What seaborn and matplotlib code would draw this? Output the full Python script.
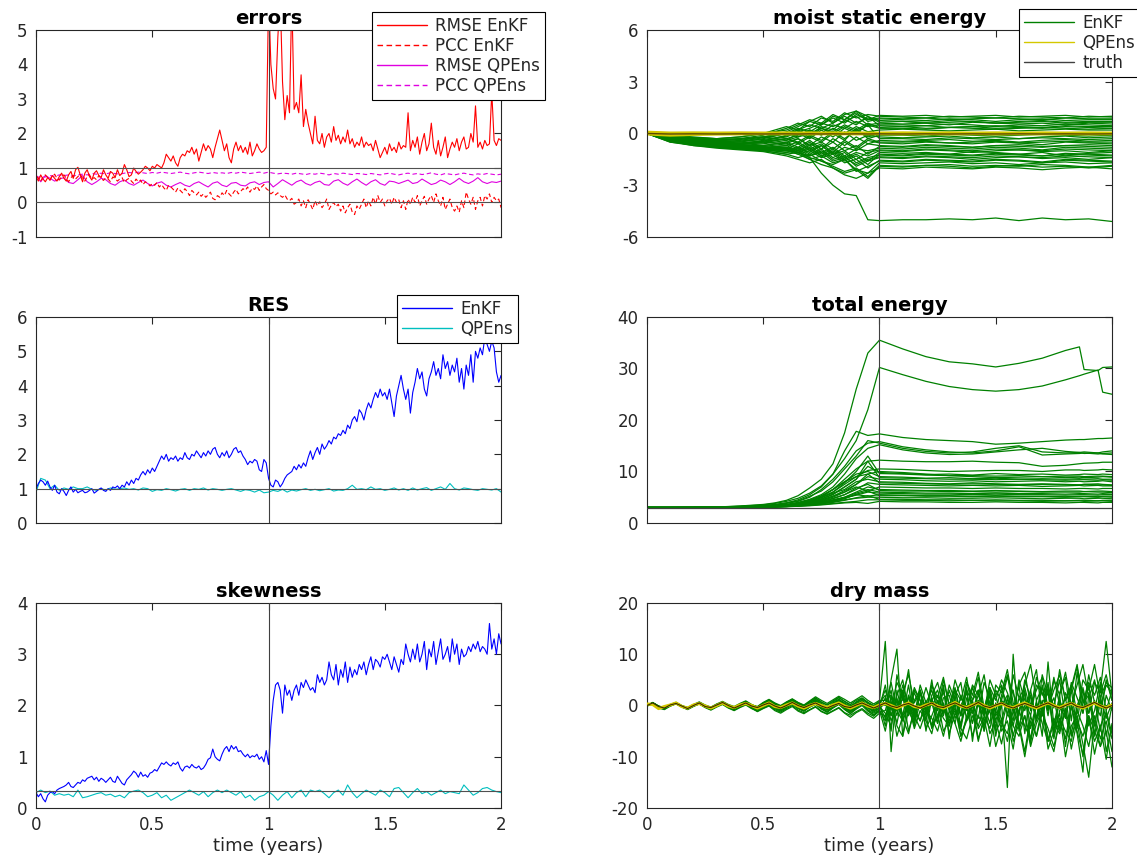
import numpy as np
import pandas as pd
import matplotlib
matplotlib.use("Agg")
import matplotlib.pyplot as plt
from matplotlib.lines import Line2D
import seaborn as sns

# ----------------------------------------------------------------- data
T_END = 2.0
SWITCH_T = 1.0

# errors panel (step 0.01 for EnKF, 0.02 for QPEns)
ERR_RMSE_ENKF = [
    0.75, 0.62, 0.8, 0.68, 0.6, 0.72, 0.65, 0.78, 0.7, 0.62,
    0.75, 0.85, 0.7, 0.62, 0.8, 0.9, 0.7, 0.95, 1.02, 0.8,
    0.6, 0.85, 0.95, 0.75, 0.65, 0.85, 0.92, 0.78, 0.72, 0.95,
    0.8, 0.7, 0.9, 0.85, 0.72, 0.95, 0.78, 0.85, 1.1, 0.95,
    0.75, 0.8, 1.0, 0.9, 0.82, 0.88, 0.95, 1.05, 1.0, 0.92,
    1.05, 1.0, 1.1, 1.05, 1.0, 1.15, 1.4, 1.3, 1.2, 1.35,
    1.15, 1.05, 1.3, 1.4, 1.35, 1.5, 1.45, 1.6, 1.4, 1.55,
    1.2, 1.45, 1.7, 1.5, 1.65, 1.55, 1.3, 1.6, 1.85, 2.1,
    1.8, 1.5, 1.7, 1.3, 1.15, 1.55, 1.75, 1.5, 1.65, 1.45,
    1.6, 1.4, 1.75, 1.35, 1.5, 1.7, 1.55, 1.45, 1.5, 1.6,
    6.0, 4.0, 3.3, 3.0, 4.8, 6.0, 3.5, 2.4, 3.1, 2.6,
    6.0, 2.7, 2.9, 2.6, 3.7, 2.2, 2.7, 2.3, 2.0, 1.7,
    2.5, 1.8, 1.7, 2.0, 1.6, 1.9, 2.0, 1.75, 2.2, 1.8,
    1.95, 1.7, 1.9, 1.75, 2.1, 1.7, 1.85, 1.6, 1.75, 1.65,
    1.9, 1.6, 1.75, 1.65, 1.7, 1.5, 1.8, 1.55, 1.3, 1.45,
    1.6, 1.4, 1.7, 1.5, 1.6, 1.45, 1.75, 1.55, 1.65, 1.6,
    2.6, 1.5, 1.8, 1.6, 1.9, 1.4, 1.75, 2.0, 1.5, 1.7,
    2.3, 1.6, 1.4, 1.8, 1.35, 1.6, 1.9, 1.3, 1.55, 1.75,
    1.6, 1.85, 1.5, 1.75, 1.9, 1.55, 1.6, 2.0, 1.75, 2.8,
    1.6, 1.75, 1.55, 1.8, 1.65, 1.7, 3.2, 1.8, 1.65, 1.85,
    1.8]
ERR_PCC_ENKF = [
    0.78, 0.7, 0.62, 0.75, 0.8, 0.72, 0.65, 0.78, 0.82, 0.7,
    0.65, 0.75, 0.8, 0.7, 0.6, 0.72, 0.78, 0.68, 0.75, 0.82,
    0.7, 0.62, 0.75, 0.8, 0.68, 0.72, 0.66, 0.78, 0.7, 0.64,
    0.72, 0.68, 0.6, 0.74, 0.7, 0.62, 0.68, 0.72, 0.58, 0.66,
    0.7, 0.62, 0.55, 0.68, 0.6, 0.65, 0.52, 0.6, 0.55, 0.48,
    0.55, 0.5, 0.58, 0.45, 0.52, 0.42, 0.35, 0.5, 0.45, 0.38,
    0.3, 0.42, 0.35, 0.28, 0.4, 0.32, 0.2, 0.35, 0.28, 0.22,
    0.3, 0.18, 0.25, 0.15, 0.22, 0.3, 0.12, 0.08, 0.2, 0.15,
    0.28, 0.2, 0.35, 0.25, 0.18, 0.3, 0.38, 0.25, 0.32, 0.4,
    0.35, 0.45, 0.3, 0.42, 0.38, 0.48, 0.35, 0.45, 0.52, 0.4,
    0.35, 0.25, 0.3, 0.22, 0.28, 0.2, 0.15, 0.22, 0.1, 0.05,
    0.12, -0.05, 0.0, 0.1, -0.1, 0.05, -0.15, 0.08, -0.05, -0.2,
    0.05, -0.1, 0.02, -0.15, -0.05, 0.1, -0.2, -0.08, 0.0, -0.12,
    -0.05, -0.25, -0.1, -0.3, -0.15, -0.05, -0.28, -0.35, -0.1, -0.2,
    -0.05, 0.1, -0.15, 0.05, -0.1, 0.15, -0.05, 0.2, 0.0, 0.1,
    -0.1, 0.05, 0.12, -0.05, 0.15, 0.0, 0.08, -0.15, 0.05, -0.2,
    0.1, -0.05, 0.15, 0.0, 0.2, -0.1, 0.05, 0.18, -0.05, 0.1,
    0.2, 0.0, 0.25, 0.05, -0.1, 0.15, -0.2, -0.05, 0.1, -0.15,
    -0.25, -0.1, -0.28, 0.05, -0.15, 0.3, 0.1, -0.05, 0.15, -0.2,
    0.05, 0.15, -0.1, 0.2, 0.1, 0.25, 0.0, 0.15, 0.05, 0.1,
    -0.15]
ERR_RMSE_QPENS = [
    0.8, 0.6, 0.78, 0.7, 0.62, 0.68, 0.72, 0.58, 0.55, 0.66,
    0.78, 0.6, 0.52, 0.6, 0.7, 0.66, 0.55, 0.5, 0.6, 0.65,
    0.55, 0.5, 0.58, 0.65, 0.55, 0.48, 0.56, 0.6, 0.5, 0.45,
    0.52, 0.58, 0.5, 0.46, 0.55, 0.6, 0.52, 0.45, 0.56, 0.6,
    0.5, 0.46, 0.56, 0.58, 0.5, 0.48, 0.57, 0.6, 0.52, 0.58,
    0.6, 0.45, 0.55, 0.66, 0.58, 0.5, 0.6, 0.65, 0.55, 0.5,
    0.58, 0.62, 0.52, 0.5, 0.62, 0.66, 0.56, 0.5, 0.6, 0.68,
    0.58, 0.5, 0.6, 0.66, 0.55, 0.5, 0.62, 0.6, 0.55, 0.6,
    0.65, 0.55, 0.58, 0.68, 0.6, 0.52, 0.56, 0.65, 0.6, 0.52,
    0.6, 0.7, 0.6, 0.55, 0.62, 0.72, 0.6, 0.55, 0.6, 0.58,
    0.62]
ERR_PCC_QPENS = [
    0.72, 0.75, 0.74, 0.78, 0.76, 0.8, 0.78, 0.8, 0.77, 0.8,
    0.82, 0.8, 0.84, 0.82, 0.85, 0.83, 0.86, 0.84, 0.82, 0.85,
    0.87, 0.85, 0.88, 0.86, 0.84, 0.87, 0.85, 0.88, 0.86, 0.84,
    0.86, 0.88, 0.85, 0.83, 0.86, 0.88, 0.86, 0.84, 0.87, 0.85,
    0.86, 0.84, 0.87, 0.85, 0.88, 0.86, 0.84, 0.86, 0.88, 0.85,
    0.88, 0.85, 0.83, 0.85, 0.84, 0.82, 0.85, 0.83, 0.81, 0.84,
    0.82, 0.85, 0.83, 0.8, 0.84, 0.82, 0.85, 0.83, 0.81, 0.84,
    0.83, 0.81, 0.84, 0.82, 0.8, 0.83, 0.85, 0.82, 0.8, 0.83,
    0.85, 0.82, 0.84, 0.81, 0.83, 0.86, 0.82, 0.8, 0.84, 0.82,
    0.8, 0.83, 0.85, 0.82, 0.8, 0.83, 0.81, 0.84, 0.82, 0.8,
    0.82]
ERR_REF_LEVELS = [0.0, 1.0]

# RES panel
RES_ENKF = [
    1.0, 1.15, 1.25, 1.2, 1.1, 1.22, 1.05, 0.95, 1.1, 0.9,
    0.85, 1.0, 0.92, 0.8, 0.95, 1.05, 0.9, 0.98, 0.88, 0.92,
    0.95, 0.88, 0.9, 0.95, 1.0, 0.87, 0.92, 0.98, 1.02, 0.95,
    0.92, 1.0, 0.95, 1.05, 1.02, 1.08, 1.0, 1.1, 1.05, 1.2,
    1.1, 1.25, 1.15, 1.3, 1.25, 1.4, 1.5, 1.4, 1.55, 1.45,
    1.6, 1.5, 1.65, 1.8, 1.95, 1.85, 2.0, 1.8, 1.9, 1.85,
    1.95, 1.8, 1.9, 1.85, 2.05, 1.9, 1.85, 2.0, 1.95, 2.1,
    2.0, 1.9, 2.05, 1.95, 2.1, 2.0, 2.15, 2.2, 2.0, 1.9,
    2.05, 1.95, 2.1, 1.9, 2.0, 2.15, 2.2, 2.05, 2.1, 1.95,
    1.85, 1.7, 1.8, 1.75, 1.85, 1.8, 1.55, 1.5, 1.85, 1.75,
    1.3, 1.1, 1.05, 1.25, 1.2, 1.05, 1.15, 1.3, 1.4, 1.45,
    1.5, 1.65, 1.55, 1.7, 1.6, 1.75, 1.65, 1.9, 2.1, 1.85,
    2.05, 2.2, 2.0, 2.3, 2.15, 2.25, 2.4, 2.3, 2.5, 2.45,
    2.6, 2.55, 2.7, 2.6, 2.85, 2.75, 3.0, 3.1, 2.95, 3.3,
    3.2, 3.0, 3.3, 3.5, 3.35, 3.6, 3.8, 3.65, 3.9, 3.7,
    3.8, 3.6, 3.9, 3.5, 3.1, 3.7, 4.0, 4.3, 3.9, 3.6,
    3.9, 3.2, 3.8, 4.1, 4.5, 4.2, 4.4, 3.9, 3.7, 4.2,
    4.4, 4.7, 4.3, 4.5, 4.2, 4.9, 4.5, 4.7, 4.3, 4.6,
    4.4, 4.8, 4.1, 4.5, 3.9, 4.6, 4.3, 4.9, 4.1, 5.0,
    4.8, 5.1, 4.9, 5.4, 5.2, 5.0, 5.3, 5.1, 4.4, 4.1,
    4.3]
RES_QPENS = [
    0.9, 1.3, 1.25, 1.0, 1.1, 0.95, 1.02, 0.98, 1.05, 1.0,
    1.0, 1.05, 0.98, 0.95, 1.0, 0.96, 1.02, 0.98, 1.0, 1.02,
    0.98, 1.0, 0.96, 1.02, 1.0, 0.92, 0.97, 0.95, 1.0, 0.97,
    0.93, 0.98, 1.0, 0.95, 1.0, 0.98, 1.02, 0.96, 1.0, 0.98,
    0.95, 0.98, 1.0, 0.96, 0.92, 0.97, 0.95, 0.9, 0.96, 0.88,
    0.9, 0.95, 0.92, 0.98, 0.9, 0.96, 0.93, 0.97, 1.0, 0.95,
    0.98, 0.94, 0.97, 1.0, 0.93, 0.96, 0.95, 1.0, 1.1, 0.98,
    1.0, 0.97, 1.05, 0.98, 1.0, 0.95, 0.98, 1.02, 0.96, 1.0,
    0.95, 1.02, 0.96, 1.0, 1.03, 0.95, 1.0, 1.05, 0.98, 1.15,
    1.0, 0.96, 1.02, 1.0, 0.97, 0.95, 1.0, 0.98, 0.96, 1.0,
    0.9]
RES_REF = 1.0

# skewness panel
SKEW_ENKF = [
    0.3, 0.22, 0.28, 0.18, 0.12, 0.25, 0.3, 0.32, 0.28, 0.35,
    0.38, 0.4, 0.42, 0.45, 0.5, 0.42, 0.4, 0.45, 0.5, 0.48,
    0.55, 0.52, 0.58, 0.6, 0.62, 0.55, 0.6, 0.52, 0.58, 0.55,
    0.5, 0.55, 0.6, 0.52, 0.5, 0.62, 0.55, 0.48, 0.45, 0.55,
    0.6, 0.65, 0.72, 0.68, 0.6, 0.7, 0.62, 0.65, 0.6, 0.68,
    0.7, 0.75, 0.72, 0.8, 0.88, 0.85, 0.9, 0.85, 0.82, 0.88,
    0.85, 0.9, 0.78, 0.72, 0.8, 0.82, 0.78, 0.85, 0.8, 0.78,
    0.82, 0.75, 0.78, 0.85, 0.95, 0.98, 1.15, 1.0, 0.95, 0.92,
    1.05, 1.15, 1.2, 1.1, 1.22, 1.15, 1.2, 1.1, 1.12, 1.05,
    1.0, 1.05, 0.98, 1.02, 1.0, 1.05, 0.95, 1.0, 0.9, 1.12,
    0.85, 1.6, 2.1, 2.4, 2.45, 2.3, 1.85, 2.4, 2.2, 2.3,
    2.1, 2.3, 2.4, 2.2, 2.45, 2.35, 2.5, 2.4, 2.3, 2.35,
    2.25, 2.6, 2.45, 2.55, 2.4, 2.5, 2.85, 2.6, 2.5, 2.8,
    2.4, 2.7, 2.55, 2.85, 2.45, 2.75, 2.55, 2.7, 2.6, 2.8,
    2.7, 2.85, 2.6, 2.8, 2.95, 2.7, 2.9, 2.85, 2.75, 2.95,
    2.9, 3.0, 2.85, 2.7, 2.95, 2.8, 2.65, 2.9, 2.8, 3.2,
    3.0, 2.85, 3.1, 2.9, 3.2, 2.85, 3.0, 3.25, 2.7, 3.1,
    2.95, 3.25, 2.8, 3.05, 3.3, 2.9, 3.0, 3.15, 2.85, 3.3,
    3.0, 3.2, 2.8, 3.1, 2.95, 3.0, 3.15, 3.05, 3.2, 3.1,
    3.25, 3.05, 3.15, 3.1, 3.0, 3.6, 3.1, 3.3, 3.0, 3.4,
    3.2]
SKEW_QPENS = [
    0.3, 0.35, 0.3, 0.33, 0.25, 0.28, 0.25, 0.27, 0.22, 0.35,
    0.2, 0.22, 0.25, 0.28, 0.3, 0.25, 0.27, 0.22, 0.25, 0.2,
    0.3, 0.33, 0.35, 0.3, 0.22, 0.25, 0.3, 0.2, 0.25, 0.15,
    0.2, 0.25, 0.3, 0.35, 0.3, 0.25, 0.32, 0.22, 0.3, 0.35,
    0.3, 0.35, 0.3, 0.25, 0.32, 0.2, 0.25, 0.15, 0.22, 0.25,
    0.32, 0.25, 0.15, 0.25, 0.32, 0.2, 0.3, 0.35, 0.22, 0.35,
    0.32, 0.35, 0.28, 0.2, 0.3, 0.35, 0.25, 0.45, 0.3, 0.2,
    0.28, 0.35, 0.3, 0.25, 0.35, 0.3, 0.22, 0.38, 0.4, 0.3,
    0.2, 0.3, 0.38, 0.28, 0.32, 0.25, 0.3, 0.35, 0.28, 0.32,
    0.3, 0.28, 0.45, 0.35, 0.25, 0.3, 0.38, 0.4, 0.35, 0.32,
    0.3]
SKEW_REF = 0.33

# moist static energy ensemble
MSE_T = [0.0, 0.1, 0.2, 0.3, 0.4, 0.5, 0.6, 0.65, 0.7, 0.75, 0.8, 0.85, 0.9,
         0.95, 1.0, 1.1, 1.2, 1.3, 1.4, 1.5, 1.6, 1.7, 1.8, 1.9, 2.0]
MSE_ENKF = [
    [0, -0.2, -0.3, -0.4, -0.3, -0.1, 0.3, 0.6, 0.4, 0.9, 0.7, 1.2, 0.9, 1.1, 1.0, 0.95, 0.9, 1.0, 0.95, 0.9, 1.0, 0.95, 0.9, 1.0, 0.95],
    [0, -0.3, -0.4, -0.5, -0.4, -0.2, 0.1, 0.4, 0.7, 0.5, 1.0, 0.8, 1.2, 0.7, 0.85, 0.8, 0.75, 0.85, 0.8, 0.7, 0.8, 0.85, 0.75, 0.8, 0.8],
    [0, -0.2, -0.35, -0.45, -0.5, -0.3, 0.0, 0.2, 0.5, 0.3, 0.6, 1.0, 0.6, 0.9, 0.75, 0.7, 0.65, 0.75, 0.7, 0.6, 0.7, 0.75, 0.65, 0.7, 0.7],
    [0, -0.25, -0.4, -0.55, -0.6, -0.4, -0.2, 0.1, 0.3, 0.6, 0.4, 0.7, 1.0, 0.5, 0.6, 0.55, 0.6, 0.5, 0.65, 0.6, 0.55, 0.6, 0.5, 0.6, 0.55],
    [0, -0.3, -0.45, -0.6, -0.65, -0.5, -0.3, -0.1, 0.2, 0.0, 0.5, 0.3, 0.7, 0.4, 0.5, 0.5, 0.45, 0.55, 0.5, 0.4, 0.5, 0.45, 0.55, 0.5, 0.45],
    [0, -0.35, -0.5, -0.6, -0.7, -0.6, -0.4, -0.2, 0.0, 0.3, 0.1, 0.5, 0.2, 0.6, 0.35, 0.4, 0.3, 0.35, 0.4, 0.3, 0.35, 0.3, 0.4, 0.35, 0.3],
    [0, -0.2, -0.3, -0.35, -0.3, -0.2, 0.0, -0.2, 0.2, -0.1, 0.3, 0.0, 0.4, 0.1, 0.2, 0.25, 0.2, 0.15, 0.2, 0.25, 0.15, 0.2, 0.25, 0.2, 0.2],
    [0, -0.3, -0.4, -0.5, -0.6, -0.55, -0.3, -0.5, -0.1, -0.4, 0.1, -0.3, 0.2, -0.2, 0.0, 0.05, -0.05, 0.0, 0.05, -0.05, 0.0, 0.05, 0.0, -0.05, 0.0],
    [0, -0.3, -0.45, -0.55, -0.6, -0.5, -0.6, -0.3, -0.7, -0.2, -0.5, 0.1, -0.4, -0.1, -0.2, -0.25, -0.2, -0.15, -0.25, -0.2, -0.3, -0.2, -0.15, -0.25, -0.2],
    [0, -0.35, -0.5, -0.6, -0.7, -0.7, -0.5, -0.8, -0.4, -0.9, -0.3, -0.7, -0.2, -0.6, -0.4, -0.45, -0.4, -0.35, -0.45, -0.4, -0.5, -0.4, -0.35, -0.45, -0.4],
    [0, -0.4, -0.55, -0.65, -0.75, -0.8, -0.7, -0.5, -0.9, -0.6, -1.1, -0.5, -0.9, -0.4, -0.55, -0.6, -0.5, -0.55, -0.6, -0.5, -0.55, -0.65, -0.5, -0.55, -0.6],
    [0, -0.3, -0.5, -0.65, -0.75, -0.8, -0.9, -0.6, -1.0, -0.7, -1.2, -0.8, -1.0, -0.6, -0.7, -0.75, -0.65, -0.7, -0.8, -0.7, -0.65, -0.75, -0.7, -0.65, -0.7],
    [0, -0.25, -0.45, -0.6, -0.7, -0.75, -0.6, -0.9, -0.5, -1.1, -0.8, -1.3, -0.9, -1.0, -0.85, -0.9, -0.8, -0.85, -0.9, -0.8, -0.85, -0.95, -0.8, -0.85, -0.9],
    [0, -0.35, -0.55, -0.7, -0.8, -0.85, -0.8, -1.0, -0.7, -1.2, -0.9, -1.4, -1.1, -1.3, -1.0, -1.05, -0.95, -1.0, -1.1, -1.0, -0.95, -1.05, -1.0, -1.1, -1.0],
    [0, -0.4, -0.6, -0.7, -0.75, -0.8, -0.9, -1.1, -0.8, -1.3, -1.0, -1.5, -1.2, -1.6, -1.1, -1.15, -1.1, -1.2, -1.05, -1.1, -1.2, -1.1, -1.3, -1.15, -1.1],
    [0, -0.3, -0.5, -0.65, -0.8, -0.9, -1.0, -0.8, -1.2, -0.9, -1.4, -1.1, -1.7, -1.4, -1.25, -1.3, -1.2, -1.25, -1.3, -1.2, -1.25, -1.3, -1.2, -1.25, -1.3],
    [0, -0.4, -0.6, -0.75, -0.85, -0.95, -0.85, -1.1, -1.3, -1.0, -1.5, -1.3, -1.9, -1.6, -1.4, -1.45, -1.35, -1.4, -1.5, -1.4, -1.35, -1.45, -1.4, -1.5, -1.4],
    [0, -0.35, -0.55, -0.7, -0.8, -0.9, -1.0, -1.2, -1.0, -1.4, -1.2, -1.7, -1.5, -2.0, -1.55, -1.6, -1.5, -1.55, -1.6, -1.5, -1.55, -1.65, -1.5, -1.55, -1.6],
    [0, -0.45, -0.65, -0.8, -0.9, -1.0, -0.9, -1.2, -1.5, -1.3, -1.7, -1.5, -2.1, -2.3, -1.7, -1.75, -1.7, -1.65, -1.75, -1.7, -1.8, -1.7, -1.65, -1.75, -1.7],
    [0, -0.4, -0.6, -0.8, -0.85, -0.9, -1.1, -1.0, -1.4, -1.6, -1.9, -2.2, -2.0, -2.5, -1.85, -1.9, -1.85, -1.8, -1.9, -1.85, -1.9, -1.8, -1.85, -1.95, -1.85],
    [0, -0.5, -0.7, -0.8, -0.9, -1.0, -1.2, -1.1, -1.5, -1.8, -2.0, -2.4, -2.6, -2.3, -2.0, -2.05, -1.95, -2.0, -2.05, -1.95, -2.0, -2.1, -2.0, -1.95, -2.05],
    [0, -0.1, -0.2, -0.3, -0.2, 0.0, 0.2, 0.5, 0.8, 0.6, 1.1, 0.8, 1.3, 1.0, 0.45, 0.4, 0.45, 0.35, 0.4, 0.45, 0.4, 0.35, 0.45, 0.4, 0.4],
    [0, -0.15, -0.25, -0.3, -0.35, -0.2, -0.4, 0.0, -0.3, 0.2, -0.2, 0.3, 0.0, 0.5, -0.3, -0.3, -0.35, -0.25, -0.3, -0.35, -0.3, -0.25, -0.3, -0.35, -0.3],
    [0, -0.3, -0.45, -0.55, -0.65, -0.75, -0.9, -1.1, -1.4, -2.3, -3.0, -3.5, -3.6, -5.0, -5.05, -5.0, -5.0, -4.95, -5.0, -4.9, -5.05, -4.9, -5.0, -4.95, -5.1],
    [0, -0.15, -0.25, -0.3, -0.2, 0.0, 0.4, 0.2, 0.7, 1.0, 0.6, 1.1, 1.3, 0.8, 1.05, 1.0, 1.05, 0.95, 1.0, 1.05, 0.95, 1.0, 1.05, 0.95, 1.0],
    [0, -0.25, -0.35, -0.4, -0.45, -0.25, 0.0, 0.3, 0.1, 0.5, 0.9, 0.6, 1.1, 0.8, 0.9, 0.85, 0.9, 0.8, 0.85, 0.9, 0.85, 0.8, 0.9, 0.85, 0.85],
    [0, -0.3, -0.45, -0.5, -0.55, -0.45, -0.1, 0.2, -0.1, 0.4, 0.2, 0.8, 0.5, 1.0, 0.65, 0.7, 0.6, 0.65, 0.7, 0.6, 0.65, 0.7, 0.6, 0.65, 0.65],
    [0, -0.2, -0.3, -0.4, -0.45, -0.35, -0.15, 0.1, -0.2, 0.3, 0.0, 0.4, 0.1, 0.5, 0.3, 0.3, 0.25, 0.35, 0.3, 0.25, 0.3, 0.35, 0.3, 0.25, 0.3],
    [0, -0.25, -0.4, -0.5, -0.55, -0.45, -0.3, -0.6, -0.2, -0.5, 0.0, -0.4, 0.3, -0.3, -0.1, -0.1, -0.15, -0.05, -0.1, -0.15, -0.1, -0.05, -0.1, -0.15, -0.1],
    [0, -0.35, -0.5, -0.6, -0.65, -0.7, -0.5, -0.3, -0.7, -0.5, -0.9, -0.4, -0.8, -0.3, -0.5, -0.5, -0.45, -0.55, -0.5, -0.45, -0.55, -0.5, -0.45, -0.5, -0.5],
    [0, -0.4, -0.55, -0.7, -0.8, -0.85, -0.7, -1.0, -0.6, -0.9, -0.5, -1.0, -0.7, -1.2, -0.75, -0.8, -0.7, -0.75, -0.8, -0.7, -0.75, -0.8, -0.7, -0.75, -0.8],
    [0, -0.3, -0.5, -0.65, -0.75, -0.8, -1.0, -0.8, -1.1, -0.7, -1.2, -1.0, -1.5, -1.1, -0.95, -1.0, -0.9, -0.95, -1.0, -0.9, -0.95, -1.0, -0.9, -0.95, -1.0],
    [0, -0.45, -0.6, -0.75, -0.85, -0.9, -0.8, -1.1, -0.9, -1.3, -1.1, -1.6, -1.3, -1.8, -1.2, -1.25, -1.15, -1.2, -1.25, -1.15, -1.2, -1.3, -1.15, -1.2, -1.25],
    [0, -0.4, -0.6, -0.7, -0.8, -0.95, -1.1, -0.9, -1.3, -1.1, -1.6, -1.4, -1.8, -1.5, -1.35, -1.4, -1.3, -1.35, -1.4, -1.3, -1.35, -1.4, -1.3, -1.35, -1.4],
    [0, -0.5, -0.65, -0.8, -0.9, -1.0, -1.2, -1.4, -1.2, -1.6, -1.8, -1.5, -2.2, -1.9, -1.6, -1.65, -1.55, -1.6, -1.65, -1.55, -1.6, -1.7, -1.55, -1.6, -1.65],
    [0, -0.45, -0.7, -0.85, -0.95, -1.05, -1.3, -1.5, -1.7, -1.5, -2.0, -2.3, -2.1, -2.6, -1.9, -1.95, -1.85, -1.9, -2.0, -1.9, -1.85, -1.95, -1.9, -2.0, -1.9],
]
MSE_QPENS = [
    [0.05, 0.0, 0.02, 0.0, 0.02, 0.0, 0.02, 0.0, 0.02, 0.0, 0.02, 0.0, 0.02, 0.0, 0.0, 0.02, 0.0, 0.02, 0.0, 0.02, 0.0, 0.02, 0.0, 0.02, 0.0],
    [-0.05, -0.12, -0.08, -0.06, -0.05, -0.04, -0.05, -0.04, -0.05, -0.04, -0.05, -0.04, -0.05, -0.04, -0.04, -0.05, -0.04, -0.05, -0.04, -0.05, -0.04, -0.05, -0.04, -0.05, -0.04],
    [0.1, 0.05, 0.06, 0.05, 0.06, 0.05, 0.06, 0.05, 0.06, 0.05, 0.06, 0.05, 0.06, 0.05, 0.05, 0.06, 0.05, 0.06, 0.05, 0.06, 0.05, 0.06, 0.05, 0.06, 0.05],
]
MSE_TRUTH = [0.0, -0.03, -0.02, -0.03, -0.02, -0.03, -0.02, -0.03, -0.02, -0.03, -0.02, -0.03, -0.02,
             -0.03, -0.02, -0.03, -0.02, -0.03, -0.02, -0.03, -0.02, -0.03, -0.02, -0.03, -0.02]

# total energy ensemble
TE_T = [0.0, 0.1, 0.2, 0.3, 0.4, 0.5, 0.55, 0.6, 0.65, 0.7, 0.75, 0.8, 0.85, 0.9, 0.95,
        1.0, 1.1, 1.2, 1.3, 1.4, 1.5, 1.6, 1.7, 1.8, 1.86, 1.88, 1.94, 1.96, 2.0]
TE_ENKF = [
    [3, 3, 3.05, 3.1, 3.3, 3.6, 3.9, 4.4, 5.3, 6.8, 8.5, 11.5, 17.5, 26, 33, 35.5, 33.8, 32.3, 31.3, 30.9, 30.3, 31.0, 32.0, 33.5, 34.2, 29.8, 29.6, 30.2, 30.3],
    [3, 3, 3.05, 3.1, 3.25, 3.5, 3.8, 4.2, 4.8, 5.8, 7.2, 9.5, 12.5, 16, 22, 30.2, 28.8, 27.5, 26.5, 25.9, 25.6, 25.9, 26.6, 27.8, 28.6, 28.9, 29.7, 25.4, 25.0],
    [3, 3, 3, 3.1, 3.2, 3.4, 3.6, 3.9, 4.5, 5.5, 7.0, 9.5, 14, 17.8, 17, 17.3, 16.6, 16.2, 16.0, 15.8, 15.3, 15.5, 15.8, 16.1, 16.2, 16.2, 16.4, 16.4, 16.5],
    [3, 3, 3, 3.05, 3.15, 3.3, 3.5, 3.8, 4.2, 5.0, 6.5, 8.5, 11, 14, 15.5, 15.8, 14.8, 14.2, 13.8, 13.6, 14.0, 14.8, 13.2, 13.4, 13.5, 13.6, 13.4, 13.5, 13.6],
    [3, 3, 3, 3.05, 3.1, 3.25, 3.4, 3.6, 4.0, 4.6, 5.5, 7.0, 9.5, 12.5, 14.5, 15.2, 14.2, 13.6, 13.3, 13.4, 13.8, 14.2, 14.5, 13.9, 13.7, 13.8, 13.6, 13.8, 14.0],
    [3, 3, 3, 3.1, 3.2, 3.35, 3.5, 3.9, 4.3, 5.2, 6.2, 8.0, 10.5, 13, 16, 15.5, 14.5, 13.9, 13.6, 13.8, 14.5, 15.0, 13.8, 13.6, 13.7, 13.5, 13.6, 13.4, 13.3],
    [3, 3, 3, 3.05, 3.1, 3.2, 3.3, 3.5, 3.9, 4.5, 5.3, 6.5, 8.5, 10.5, 12, 12.2, 12.0, 11.9, 11.9, 12.0, 11.8, 11.7, 11.0, 11.2, 11.5, 11.6, 11.7, 11.8, 11.8],
    [3, 3, 3, 3.05, 3.1, 3.2, 3.3, 3.5, 3.8, 4.2, 5.0, 6.0, 7.5, 9.0, 10.2, 10.5, 10.4, 10.2, 10.0, 10.1, 10.2, 10.2, 10.0, 10.3, 10.3, 10.2, 10.3, 10.4, 10.3],
    [3, 3, 3, 3.05, 3.1, 3.15, 3.3, 3.4, 3.7, 4.0, 4.6, 5.5, 7.0, 8.5, 11, 9.8, 9.6, 9.4, 9.5, 9.3, 9.6, 9.4, 9.5, 9.3, 9.4, 9.5, 9.4, 9.5, 9.4],
    [3, 3, 3, 3.05, 3.1, 3.2, 3.35, 3.5, 3.9, 4.4, 5.0, 6.5, 8.0, 9.5, 10, 9.0, 8.9, 8.7, 8.8, 8.6, 8.7, 8.5, 8.6, 8.5, 8.6, 8.5, 8.6, 8.5, 8.5],
    [3, 3, 3, 3.05, 3.1, 3.15, 3.25, 3.4, 3.6, 4.0, 4.5, 5.2, 6.0, 7.5, 9, 8.5, 8.4, 8.2, 8.1, 8.2, 8.0, 8.1, 8.2, 8.0, 8.1, 8.0, 8.1, 8.2, 8.0],
    [3, 3, 3, 3.05, 3.1, 3.2, 3.3, 3.5, 3.8, 4.3, 4.9, 5.8, 6.5, 8.0, 8.5, 8.0, 7.9, 7.7, 7.6, 7.8, 7.6, 7.5, 7.6, 7.5, 7.4, 7.5, 7.6, 7.5, 7.4],
    [3, 3, 3, 3.05, 3.1, 3.15, 3.2, 3.3, 3.5, 3.8, 4.2, 4.8, 5.5, 6.5, 7.8, 7.5, 7.4, 7.3, 7.2, 7.3, 7.2, 7.3, 7.1, 7.2, 7.3, 7.2, 7.3, 7.2, 7.2],
    [3, 3, 3, 3.02, 3.08, 3.15, 3.2, 3.3, 3.5, 3.7, 4.0, 4.5, 5.0, 6.0, 7.0, 6.5, 6.4, 6.3, 6.3, 6.2, 6.3, 6.2, 6.1, 6.2, 6.2, 6.1, 6.2, 6.2, 6.1],
    [3, 3, 3, 3.02, 3.06, 3.12, 3.2, 3.3, 3.45, 3.7, 4.0, 4.4, 5.0, 5.8, 6.5, 6.0, 5.9, 5.8, 5.8, 5.7, 5.8, 5.7, 5.7, 5.6, 5.7, 5.7, 5.6, 5.7, 5.6],
    [3, 3, 3, 3.02, 3.05, 3.1, 3.15, 3.25, 3.4, 3.6, 3.9, 4.3, 4.8, 5.5, 5.2, 5.5, 5.4, 5.3, 5.3, 5.2, 5.3, 5.2, 5.2, 5.1, 5.2, 5.2, 5.1, 5.2, 5.2],
    [3, 3, 3, 3.02, 3.05, 3.1, 3.15, 3.2, 3.35, 3.5, 3.8, 4.1, 4.5, 4.8, 5.0, 5.0, 4.9, 4.9, 4.8, 4.8, 4.9, 4.8, 4.7, 4.8, 4.8, 4.7, 4.8, 4.8, 4.7],
    [3, 3, 3, 3.02, 3.04, 3.08, 3.12, 3.2, 3.3, 3.4, 3.6, 3.8, 4.0, 4.2, 4.5, 4.5, 4.4, 4.4, 4.3, 4.4, 4.3, 4.3, 4.2, 4.3, 4.3, 4.2, 4.3, 4.3, 4.2],
    [3, 3, 3, 3.02, 3.04, 3.06, 3.1, 3.15, 3.25, 3.35, 3.5, 3.7, 3.9, 4.0, 3.8, 4.2, 4.1, 4.1, 4.0, 4.0, 4.1, 4.0, 4.0, 3.9, 4.0, 4.0, 3.9, 4.0, 4.0],
    [3, 3, 3, 3.05, 3.1, 3.2, 3.3, 3.5, 3.8, 4.3, 5.2, 6.5, 8.0, 9.0, 9.5, 10.0, 9.8, 9.5, 9.2, 9.0, 8.8, 8.9, 9.0, 8.8, 8.9, 8.8, 8.9, 9.0, 8.9],
    [3, 3, 3, 3.02, 3.06, 3.12, 3.2, 3.3, 3.5, 3.8, 4.3, 5.0, 6.0, 7.0, 6.2, 7.0, 6.9, 6.8, 6.8, 6.7, 6.8, 6.7, 6.7, 6.6, 6.7, 6.7, 6.6, 6.7, 6.7],
    [3, 3, 3, 3.02, 3.05, 3.1, 3.15, 3.25, 3.4, 3.6, 3.9, 4.4, 4.9, 5.4, 6.0, 5.8, 5.7, 5.6, 5.6, 5.5, 5.6, 5.5, 5.5, 5.4, 5.5, 5.5, 5.4, 5.5, 5.5],
    [3, 3, 3, 3.02, 3.04, 3.08, 3.12, 3.18, 3.3, 3.45, 3.7, 4.0, 4.4, 4.9, 5.3, 4.6, 4.6, 4.5, 4.5, 4.4, 4.5, 4.4, 4.4, 4.3, 4.4, 4.4, 4.3, 4.4, 4.4],
    [3, 3, 3, 3.02, 3.05, 3.1, 3.15, 3.22, 3.35, 3.55, 3.8, 4.2, 4.7, 5.6, 6.2, 5.3, 5.3, 5.2, 5.2, 5.1, 5.2, 5.1, 5.1, 5.0, 5.1, 5.1, 5.0, 5.1, 5.0],
    [3, 3, 3, 3.02, 3.06, 3.12, 3.2, 3.3, 3.5, 3.75, 4.1, 4.7, 5.5, 6.8, 7.5, 6.3, 6.2, 6.2, 6.1, 6.1, 6.0, 6.1, 6.0, 6.0, 6.0, 6.1, 6.0, 6.0, 5.9],
    [3, 3, 3, 3.04, 3.08, 3.15, 3.25, 3.4, 3.6, 3.9, 4.4, 5.2, 6.3, 7.5, 9.5, 7.8, 7.7, 7.6, 7.5, 7.6, 7.5, 7.4, 7.5, 7.4, 7.4, 7.5, 7.4, 7.4, 7.3],
    [3, 3, 3, 3.05, 3.1, 3.2, 3.3, 3.5, 3.7, 4.1, 4.7, 5.6, 7.0, 8.5, 12, 8.8, 8.7, 8.6, 8.5, 8.5, 8.4, 8.5, 8.4, 8.3, 8.4, 8.4, 8.3, 8.4, 8.3],
    [3, 3, 3, 3.05, 3.1, 3.2, 3.3, 3.45, 3.75, 4.2, 4.9, 6.0, 7.8, 10, 13, 9.6, 9.5, 9.3, 9.2, 9.2, 9.1, 9.2, 9.0, 9.1, 9.1, 9.0, 9.1, 9.1, 9.0],
]
TE_TRUTH_T = [0.0, 2.0]
TE_TRUTH = [3.0, 3.0]

# dry mass ensemble (81 samples, step 0.025)
DM_ENKF = [
    [0.0, 0.5, -0.3, -0.6, 0.1, 0.4, -0.2, -0.7, 0.0, 0.5, -0.1, -0.6, 0.2, 0.6, 0.0, -0.5, 0.1, 0.7, 0.0, -0.4,
     0.3, 0.9, 0.4, -0.2, 0.6, 1.2, 0.5, -0.1, 0.8, 1.5, 0.7, 0.1, 0.9, 1.6, 0.8, 0.2, 1.0, 1.5, 0.6, 0.0, 0.8,
     12.5, -9.0, 3.0, -2.0, 4.0, -3.0, 2.5, -1.5, 5.0, -2.5, 3.5, -4.0, 2.0, 4.5, -3.0, 1.0, 5.5, -2.0, 3.0, -4.5,
     2.0, 6.0, -1.0, 4.0, -5.5, 3.0, 7.0, -2.0, 4.5, -6.0, 2.5, 5.5, -3.0, 6.5, -1.5, 4.0, -4.0, 3.0, 12.5, 2.0],
    [0.0, 0.4, -0.4, -0.7, -0.1, 0.3, -0.3, -0.8, -0.2, 0.3, -0.4, -0.9, -0.3, 0.2, -0.5, -1.0, -0.4, 0.1, -0.6, -1.1,
     -0.5, 0.0, -0.8, -1.3, -0.6, 0.0, -0.9, -1.4, -0.8, -0.2, -1.1, -1.6, -1.0, -0.4, -1.4, -1.9, -1.2, -0.6, -1.5, -2.1, -1.0,
     -3.0, 5.0, 11.0, -6.0, 2.0, -4.0, 3.0, -5.0, 1.5, -3.5, 4.0, -6.5, 2.0, -4.0, 3.5, -7.0, 1.0, -5.0, 2.5, -6.0,
     0.5, -16.0, 10.0, -5.0, 3.0, -7.5, 1.0, -6.0, 8.5, -4.0, 2.0, -8.0, 0.0, -5.5, -13.0, 2.5, -6.0, 1.0, -9.0, -4.0],
    [0.1, 0.6, -0.1, -0.4, 0.2, 0.6, 0.0, -0.4, 0.2, 0.7, 0.1, -0.3, 0.3, 0.8, 0.2, -0.2, 0.4, 0.9, 0.2, -0.3,
     0.5, 1.1, 0.3, -0.2, 0.4, 0.9, 0.1, -0.5, 0.3, 1.0, 0.2, -0.6, 0.5, 1.2, 0.3, -0.5, 0.6, 1.3, 0.4, -0.3, 0.5,
     2.0, -5.0, 6.0, 1.0, 7.0, -2.0, 4.0, 0.5, 3.0, -1.0, 5.0, 0.0, 3.5, -2.0, 4.5, 1.0, 3.0, -1.5, 5.0, 2.0,
     4.0, -2.0, 6.0, 1.5, 3.5, -1.0, 5.5, 2.0, 4.0, -0.5, 7.0, 1.0, 3.5, 8.0, 0.5, 4.5, 2.0, 5.5, -1.0, 3.0],
    [-0.1, 0.3, -0.5, -0.8, -0.1, 0.4, -0.2, -0.6, 0.0, 0.4, -0.3, -0.7, -0.1, 0.3, -0.3, -0.8, 0.0, 0.5, -0.2, -0.7,
     0.1, 0.6, -0.3, -0.9, 0.0, 0.7, -0.2, -1.0, -0.1, 0.6, -0.5, -1.2, -0.3, 0.4, -0.7, -1.5, -0.5, 0.3, -0.9, -1.8, -1.2,
     -1.0, 3.0, -4.0, -6.0, -1.0, -3.5, 0.5, -4.5, -2.0, 1.0, -5.0, -3.0, -0.5, -6.0, -2.5, 0.0, -6.5, -3.0, -1.0, -8.0,
     -4.0, 0.5, -7.0, -3.5, -9.0, -2.0, -6.0, 0.0, -8.5, -5.0, -1.5, -10.0, -4.0, -2.0, -7.5, -14.0, -3.0, -8.0, -5.0, -12.0],
    [0.0, 0.5, -0.2, -0.5, 0.1, 0.5, -0.1, -0.5, 0.1, 0.6, 0.0, -0.4, 0.1, 0.5, -0.1, -0.5, 0.2, 0.6, 0.1, -0.2,
     0.6, 1.2, 0.5, 0.0, 0.7, 1.3, 0.6, 0.1, 0.9, 1.7, 1.0, 0.4, 1.1, 1.8, 1.2, 0.5, 1.2, 1.9, 1.0, 0.3, 1.0,
     1.0, 2.0, -2.0, 3.0, -1.0, 2.5, -0.5, 3.5, 0.0, 2.0, -1.5, 4.0, 1.0, -2.0, 3.0, 0.5, -2.5, 4.5, 1.5, -1.0,
     3.5, 0.0, -3.0, 5.0, 1.0, -2.0, 4.0, 2.5, -1.0, 5.5, 0.0, -2.5, 4.5, 1.5, -1.5, 6.0, 0.5, -2.0, 5.0, 1.0],
    [0.0, 0.5, -0.2, -0.6, 0.0, 0.4, -0.3, -0.7, -0.1, 0.3, -0.3, -0.8, -0.2, 0.3, -0.4, -0.9, -0.3, 0.2, -0.5, -1.2,
     -0.6, -0.1, -1.0, -1.5, -0.8, -0.2, -1.1, -1.6, -0.9, -0.3, -1.2, -1.7, -1.1, -0.5, -1.5, -2.3, -1.4, -0.8, -1.8, -2.5, -1.5,
     -2.0, 0.5, -3.5, 2.0, -5.0, -1.0, -3.0, 1.0, -4.5, -2.0, 0.5, -5.5, -1.5, -3.5, 0.0, -6.0, -2.0, -4.0, 1.0, -5.0,
     -3.0, -7.0, -1.0, -4.5, -2.0, -6.5, 0.5, -3.5, -7.0, -2.5, -5.0, -1.0, -8.5, -3.0, -6.0, -2.0, -9.5, -4.0, -1.5, -6.5],
    [0.1, 0.4, -0.2, -0.5, 0.1, 0.5, -0.1, -0.4, 0.1, 0.5, -0.1, -0.5, 0.1, 0.6, 0.0, -0.4, 0.2, 0.7, 0.0, -0.5,
     0.2, 0.8, -0.1, -0.6, 0.3, 1.0, 0.0, -0.7, 0.2, 1.1, 0.1, -0.8, 0.0, 0.9, -0.3, -1.1, -0.2, 0.7, -0.4, -1.3, -0.6,
     0.5, -2.0, 1.5, -3.0, 2.0, -1.0, 0.0, -2.5, 1.0, 3.0, -1.5, 0.5, -3.5, 2.0, -1.0, 3.5, 0.0, -2.0, 2.5, -3.0,
     1.0, -0.5, 3.0, -4.0, 0.0, 2.0, -2.5, 4.0, -1.0, 1.5, -4.5, 2.5, 0.0, -3.0, 3.5, -1.5, 1.0, -5.0, 2.0, -1.0],
    [-0.1, 0.5, -0.3, -0.5, 0.0, 0.5, -0.2, -0.6, 0.0, 0.5, -0.2, -0.6, 0.0, 0.4, -0.2, -0.6, -0.1, 0.3, -0.4, -0.9,
     -0.3, 0.2, -0.6, -1.1, -0.4, 0.3, -0.5, -1.0, -0.2, 0.5, -0.4, -1.2, -0.1, 0.8, -0.2, -0.9, 0.2, 1.0, 0.0, -0.7, 0.2,
     3.0, -1.0, 4.5, 2.0, -1.5, 3.0, 1.0, -2.0, 4.0, 0.5, 2.5, -1.0, 5.0, 1.5, -0.5, 4.0, 2.0, 6.0, -1.0, 3.0,
     1.0, 5.5, 2.5, -1.5, 4.0, 8.0, 1.0, 3.5, -2.0, 5.0, 2.0, 6.5, 0.0, 4.0, 8.0, 1.5, 5.0, -0.5, 4.0, 2.5],
    [0.0, 0.5, -0.1, -0.5, 0.1, 0.5, -0.1, -0.5, 0.0, 0.4, -0.1, -0.5, 0.1, 0.5, -0.1, -0.5, 0.0, 0.4, -0.2, -0.6,
     0.0, 0.5, -0.1, -0.6, 0.1, 0.6, -0.1, -0.5, 0.2, 0.8, 0.1, -0.4, 0.4, 1.2, 0.5, -0.2, 0.7, 1.4, 0.6, -0.1, 0.4,
     -4.0, 2.0, -1.0, -3.0, 0.0, -2.0, -4.5, -1.0, -2.5, -5.0, -0.5, -3.0, -1.0, -4.5, -6.5, -2.0, -4.0, 0.0, -5.5, -3.0,
     -7.5, -1.5, -4.0, -6.0, -2.0, -8.0, -3.5, -1.0, -6.0, -9.0, -2.5, -5.0, -7.0, -1.0, -4.0, -8.0, -2.0, -6.5, -3.0, -9.0],
    [0.0, 0.5, -0.2, -0.5, 0.0, 0.5, -0.2, -0.5, 0.0, 0.5, -0.1, -0.6, 0.0, 0.5, -0.2, -0.6, -0.1, 0.4, -0.3, -0.8,
     -0.2, 0.4, -0.3, -0.9, -0.1, 0.5, -0.3, -1.0, -0.3, 0.3, -0.6, -1.3, -0.5, 0.2, -0.8, -1.6, -0.7, 0.0, -1.1, -1.9, -0.8,
     1.5, -3.0, 0.0, 2.5, -2.0, 1.0, 3.0, -1.0, 0.5, -3.5, 1.5, 2.0, -2.5, 0.0, 2.5, -3.5, 1.0, -1.5, 3.5, -2.0,
     0.0, 2.0, -4.0, 1.5, -1.0, 3.0, -3.0, 0.5, 2.5, -5.0, 1.0, -2.0, 3.0, -4.5, 0.5, 2.0, -3.5, 1.5, -2.5, 0.5],
    [0.0, 0.5, -0.2, -0.5, 0.0, 0.6, -0.1, -0.5, 0.1, 0.5, -0.1, -0.4, 0.2, 0.6, 0.0, -0.4, 0.3, 0.8, 0.1, -0.3,
     0.4, 0.9, 0.2, -0.3, 0.5, 1.1, 0.3, -0.2, 0.6, 1.2, 0.4, -0.3, 0.4, 1.0, 0.1, -0.6, 0.3, 0.9, -0.1, -0.8, 0.0,
     -2.5, 1.5, -1.0, 4.0, 0.0, -3.0, 2.5, -0.5, -4.0, 1.0, -2.0, 3.0, -0.5, -4.5, 1.5, -1.5, 3.0, -5.0, 0.0, 2.0,
     -3.0, 1.5, -6.0, -1.0, 2.5, -4.5, 0.5, -2.0, 3.5, -6.5, -1.0, 1.5, -5.5, 0.0, 3.0, -4.0, -1.0, 4.5, -6.0, 0.0],
    [0.0, 0.4, -0.3, -0.6, 0.0, 0.5, -0.2, -0.6, -0.1, 0.4, -0.3, -0.7, -0.1, 0.4, -0.2, -0.6, 0.0, 0.5, -0.3, -0.8,
     -0.1, 0.5, -0.4, -1.0, -0.2, 0.4, -0.5, -1.1, -0.3, 0.2, -0.7, -1.3, -0.4, 0.3, -0.6, -1.2, -0.2, 0.5, -0.5, -1.1, -0.5,
     4.0, -2.0, 2.0, 5.0, -1.0, 3.5, 1.0, -3.0, 2.0, 4.5, 0.0, -2.5, 3.0, 1.0, 5.5, -1.5, 2.0, 0.0, -3.5, 4.0,
     2.5, 7.0, 0.5, -2.0, 5.0, 1.5, -3.0, 6.0, 2.0, 0.0, 5.0, -2.5, 3.0, 7.5, 1.0, -1.5, 4.5, 2.5, 6.0, 1.0],
    [0.1, 0.5, -0.2, -0.4, 0.1, 0.5, -0.1, -0.5, 0.0, 0.5, -0.2, -0.5, 0.0, 0.5, -0.1, -0.4, 0.1, 0.6, -0.1, -0.5,
     0.0, 0.7, 0.0, -0.4, 0.2, 0.8, 0.0, -0.6, 0.1, 0.9, -0.1, -0.7, 0.2, 1.0, 0.0, -0.9, 0.1, 0.8, -0.3, -1.0, -0.2,
     -1.5, -4.0, 1.0, -2.5, -5.5, -0.5, -3.0, 0.5, -4.0, -2.0, -6.0, -1.0, -3.5, -7.0, -2.0, 1.0, -4.5, -2.5, -8.0, -1.0,
     -3.5, -5.5, 0.0, -4.0, -10.0, -3.0, -6.0, -1.5, -4.5, -8.0, -3.0, -6.5, 0.0, -5.0, -9.5, -2.5, -7.0, -4.0, -10.5, -3.5],
    [0.0, 0.5, -0.2, -0.6, 0.1, 0.5, -0.2, -0.5, 0.0, 0.4, -0.2, -0.6, 0.1, 0.5, -0.2, -0.5, 0.2, 0.7, 0.1, -0.3,
     0.3, 0.9, 0.3, -0.1, 0.5, 1.2, 0.5, 0.0, 0.6, 1.4, 0.6, 0.1, 0.7, 1.5, 0.8, 0.0, 0.5, 1.3, 0.5, -0.2, 0.6,
     0.0, 4.5, -1.0, 2.5, 6.0, 0.5, 3.0, -1.5, 4.0, 1.5, 5.5, 0.0, 3.0, -2.0, 4.5, 2.0, 6.5, -0.5, 3.5, 1.0,
     5.0, 2.5, -1.0, 4.0, 6.5, 0.0, 3.0, 5.5, -0.5, 3.0, 6.0, 1.0, 4.0, -1.5, 5.0, 3.0, 8.0, 1.5, 4.5, 3.5],
    [-0.1, 0.4, -0.3, -0.6, -0.1, 0.4, -0.3, -0.7, -0.1, 0.4, -0.3, -0.6, 0.0, 0.5, -0.2, -0.6, -0.1, 0.4, -0.4, -0.8,
     -0.2, 0.3, -0.5, -1.0, -0.3, 0.3, -0.6, -1.1, -0.1, 0.6, -0.3, -0.9, -0.2, 0.5, -0.5, -1.2, -0.4, 0.3, -0.8, -1.5, -0.9,
     -5.0, 1.0, -6.0, -2.0, 0.0, -4.5, -1.0, -3.0, -5.5, 0.0, -2.5, -4.0, 0.5, -6.0, -3.0, -1.0, -7.0, -2.0, -4.5, 0.5,
     -5.0, -3.0, -8.5, -1.0, -4.0, -6.5, -2.5, 1.0, -7.0, -3.5, -5.5, -0.5, -6.0, -3.0, -10.0, -2.0, -5.0, -8.0, -1.0, -5.5],
]
DM_QPENS = [
    0.3, 0.2, -0.6, -0.2, 0.1, 0.5, -0.2, -0.5, 0.1, 0.4, -0.1, -0.5, 0.0, 0.5, -0.1, -0.4, 0.1, 0.4, 0.0, -0.5,
    0.0, 0.5, -0.2, -0.4, 0.1, 0.5, -0.1, -0.5, 0.0, 0.4, 0.0, -0.4, 0.1, 0.5, -0.1, -0.5, 0.0, 0.5, -0.1, -0.4,
    0.1, 0.4, 0.0, -0.5, 0.0, 0.5, -0.2, -0.4, 0.1, 0.4, -0.1, -0.5, 0.0, 0.6, -0.1, -0.4, 0.1, 0.5, 0.0, -0.5,
    0.0, 0.4, -0.2, -0.4, 0.1, 0.5, -0.1, -0.5, 0.0, 0.5, 0.0, -0.4, 0.1, 0.4, -0.1, -0.5, 0.0, 0.5, -0.1, -0.4,
    0.1]
DM_TRUTH = [
    0.0, 0.5, -0.2, -0.5, 0.1, 0.4, -0.1, -0.6, 0.0, 0.5, -0.2, -0.4, 0.1, 0.6, 0.0, -0.5, 0.0, 0.5, -0.1, -0.4,
    0.1, 0.5, -0.1, -0.5, 0.0, 0.6, 0.0, -0.4, 0.1, 0.5, -0.1, -0.5, 0.0, 0.4, -0.2, -0.4, 0.1, 0.5, 0.0, -0.5,
    0.0, 0.5, -0.1, -0.4, 0.1, 0.4, -0.1, -0.5, 0.0, 0.5, -0.2, -0.4, 0.1, 0.5, 0.0, -0.5, 0.0, 0.6, -0.1, -0.4,
    0.1, 0.5, -0.1, -0.5, 0.0, 0.4, 0.0, -0.4, 0.1, 0.5, -0.1, -0.5, 0.0, 0.5, -0.2, -0.4, 0.1, 0.6, 0.0, -0.5,
    0.0]

for name, arr, n in [("rmse", ERR_RMSE_ENKF, 201), ("pcc", ERR_PCC_ENKF, 201),
                     ("res", RES_ENKF, 201), ("skew", SKEW_ENKF, 201),
                     ("dmq", DM_QPENS, 81), ("dmt", DM_TRUTH, 81)]:
    assert len(arr) == n, (name, len(arr))
for i, m in enumerate(MSE_ENKF + MSE_QPENS):
    assert len(m) == len(MSE_T), ("mse", i, len(m))
for i, m in enumerate(TE_ENKF):
    assert len(m) == len(TE_T), ("te", i, len(m))
for i, m in enumerate(DM_ENKF):
    assert len(m) == 81, ("dm", i, len(m))

# ----------------------------------------------------------------- style
sns.set_theme(style="white")
plt.rcParams["font.family"] = ["DejaVu Sans"]
plt.rcParams["axes.unicode_minus"] = False

C_RED = "#ff0000"
C_MAG = "#e000e0"
C_BLUE = "#0000ff"
C_CYAN = "#00bfbf"
C_GREEN = "#008000"
C_YEL = "#d4c800"
C_TRUTH = "#404040"
C_REF = "#505050"
C_AX = "#262626"
DASH = (0, (4, 2.5))

fig = plt.figure(figsize=(11.37, 8.64), dpi=100)
LX, RX, W = 0.0317, 0.569, 0.409
ROWS = [(0.7257, 0.2396), (0.3947, 0.2384), (0.0648, 0.2373)]
ax_err = fig.add_axes([LX, ROWS[0][0], W, ROWS[0][1]])
ax_res = fig.add_axes([LX, ROWS[1][0], W, ROWS[1][1]])
ax_skw = fig.add_axes([LX, ROWS[2][0], W, ROWS[2][1]])
ax_mse = fig.add_axes([RX, ROWS[0][0], W, ROWS[0][1]])
ax_te = fig.add_axes([RX, ROWS[1][0], W, ROWS[1][1]])
ax_dm = fig.add_axes([RX, ROWS[2][0], W, ROWS[2][1]])


def series(ax, vals, color, ls="-", lw=0.8, t=None, zorder=2):
    v = np.asarray(vals, float)
    tt = np.linspace(0, T_END, len(v)) if t is None else np.asarray(t, float)
    sns.lineplot(x=tt, y=v, ax=ax, color=color, lw=lw, linestyle=ls,
                 estimator=None, sort=False, legend=False, zorder=zorder)


def ensemble(ax, t, members, color, lw=0.8, alpha=1.0):
    t = np.asarray(t, float)
    n = len(members)
    df = pd.DataFrame({
        "t": np.tile(t, n),
        "v": np.concatenate([np.asarray(m, float) for m in members]),
        "member": np.repeat(np.arange(n), len(t)),
    })
    sns.lineplot(data=df, x="t", y="v", units="member", estimator=None,
                 color=color, lw=lw, alpha=alpha, ax=ax, legend=False)


def style(ax, ylim, yticks, title, xlabels):
    ax.set_xlim(0, T_END)
    ax.set_ylim(*ylim)
    ax.set_xticks([0, 0.5, 1, 1.5, 2])
    ax.set_xticklabels(["0", "0.5", "1", "1.5", "2"] if xlabels else [])
    ax.set_yticks(yticks)
    ax.set_yticklabels([f"{v:g}" for v in yticks])
    ax.tick_params(direction="in", top=True, right=True, length=5, width=0.8,
                   colors=C_AX, labelsize=12, pad=6)
    for s in ax.spines.values():
        s.set_visible(True)
        s.set_color(C_AX)
        s.set_linewidth(0.8)
    ax.set_title(title, fontsize=14, fontweight="bold", pad=4, color="black")
    ax.set_xlabel("time (years)" if xlabels else "", fontsize=13, labelpad=2, color=C_AX)
    ax.set_ylabel("")
    ax.axvline(SWITCH_T, color=C_TRUTH, lw=0.8, zorder=4)


# errors
series(ax_err, ERR_PCC_QPENS, C_MAG, ls=DASH)
series(ax_err, ERR_RMSE_QPENS, C_MAG)
series(ax_err, ERR_PCC_ENKF, C_RED, ls=DASH)
series(ax_err, ERR_RMSE_ENKF, C_RED)
for lvl in ERR_REF_LEVELS:
    ax_err.axhline(lvl, color=C_REF, lw=0.8, zorder=3)
style(ax_err, (-1, 5), [-1, 0, 1, 2, 3, 4, 5], "errors", False)

# RES
series(ax_res, RES_QPENS, C_CYAN)
series(ax_res, RES_ENKF, C_BLUE)
ax_res.axhline(RES_REF, color=C_REF, lw=0.8, zorder=3)
style(ax_res, (0, 6), [0, 1, 2, 3, 4, 5, 6], "RES", False)

# skewness
series(ax_skw, SKEW_QPENS, C_CYAN)
series(ax_skw, SKEW_ENKF, C_BLUE)
ax_skw.axhline(SKEW_REF, color=C_REF, lw=0.8, zorder=3)
style(ax_skw, (0, 4), [0, 1, 2, 3, 4], "skewness", True)

# moist static energy
ensemble(ax_mse, MSE_T, MSE_ENKF, C_GREEN, lw=0.9)
ensemble(ax_mse, MSE_T, MSE_QPENS, C_YEL, lw=1.6)
series(ax_mse, MSE_TRUTH, "#5a4800", t=MSE_T, lw=1.0, zorder=3)
style(ax_mse, (-6, 6), [-6, -3, 0, 3, 6], "moist static energy", False)

# total energy
ensemble(ax_te, TE_T, TE_ENKF, C_GREEN, lw=0.9)
series(ax_te, TE_TRUTH, C_TRUTH, t=TE_TRUTH_T, lw=0.9, zorder=3)
style(ax_te, (0, 40), [0, 10, 20, 30, 40], "total energy", False)

# dry mass
ensemble(ax_dm, np.linspace(0, T_END, 81), DM_ENKF, C_GREEN, lw=0.9)
series(ax_dm, DM_QPENS, C_YEL, lw=2.2, zorder=3)
series(ax_dm, DM_TRUTH, "#3a2a00", lw=0.8, zorder=3)
style(ax_dm, (-20, 20), [-20, -10, 0, 10, 20], "dry mass", True)

# legends
LEG_KW = dict(loc="upper left", bbox_transform=fig.transFigure, frameon=True,
              fancybox=False, edgecolor="black", framealpha=1, fontsize=12,
              handlelength=3.0, handletextpad=0.5, labelspacing=0.12,
              borderpad=0.3, borderaxespad=0)
HLW = 1.0
h_err = [Line2D([], [], color=C_RED, lw=HLW),
         Line2D([], [], color=C_RED, lw=HLW, ls=DASH),
         Line2D([], [], color=C_MAG, lw=HLW),
         Line2D([], [], color=C_MAG, lw=HLW, ls=DASH)]
lg = fig.legend(h_err, ["RMSE EnKF", "PCC EnKF", "RMSE QPEns", "PCC QPEns"],
                bbox_to_anchor=(0.3272, 0.9861), **LEG_KW)
lg.get_frame().set_linewidth(0.8)

h_res = [Line2D([], [], color=C_BLUE, lw=HLW), Line2D([], [], color=C_CYAN, lw=HLW)]
lg = fig.legend(h_res, ["EnKF", "QPEns"], bbox_to_anchor=(0.3492, 0.6586), **LEG_KW)
lg.get_frame().set_linewidth(0.8)

h_mse = [Line2D([], [], color=C_GREEN, lw=HLW), Line2D([], [], color=C_YEL, lw=HLW),
         Line2D([], [], color=C_TRUTH, lw=HLW)]
lg = fig.legend(h_mse, ["EnKF", "QPEns", "truth"], bbox_to_anchor=(0.8962, 0.9896), **LEG_KW)
lg.get_frame().set_linewidth(0.8)

fig.savefig("out.png", dpi=100, facecolor="white")
